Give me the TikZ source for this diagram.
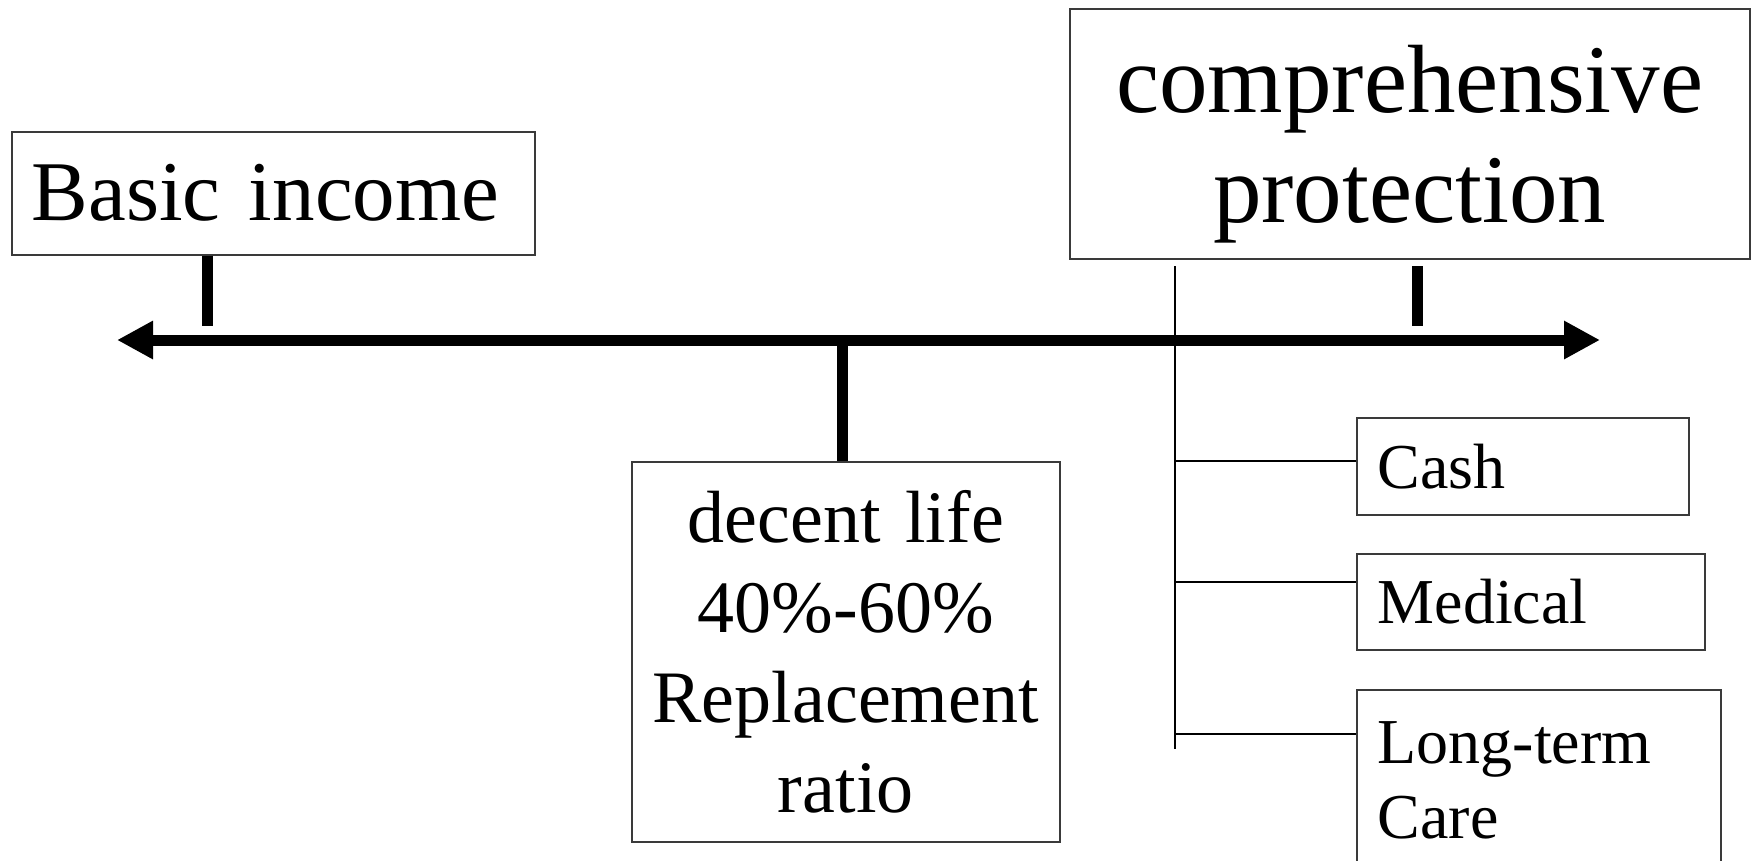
\documentclass[tikz,border=0pt]{standalone}
\usepackage{fontspec}
\setmainfont{Liberation Serif}
\usetikzlibrary{arrows.meta,calc}
\definecolor{BoxGray}{HTML}{3A3A3A}

\tikzset{
  optbox/.style={draw=BoxGray,line width=1.5pt,rectangle,anchor=north west,inner ysep=0pt},
  heavytick/.style={line width=11pt,line cap=butt},
  leafline/.style={line width=1.8pt,line cap=butt},
  axisline/.style={line width=11pt,{Triangle[length=36pt,width=36pt]}-{Triangle[length=36pt,width=36pt]}}
}

\begin{document}
\begin{tikzpicture}[x=1pt,y=-1pt,line join=miter]

% 1 unit = 1 px of the page, y pointing down
\useasboundingbox (0,0) rectangle (1752,860);

% ---- BOXES ----
\node[optbox,inner xsep=20pt,minimum width=523pt,minimum height=123pt,text width=483pt,align=left,
  font=\fontsize{85}{94}\selectfont] (basic) at (11,131) {Basic income};

\node[optbox,inner xsep=20pt,minimum width=680pt,minimum height=250pt,text width=640pt,align=center,
  text height=89pt,font=\fontsize{97}{110}\selectfont] (compre) at (1069,8) {comprehensive\\protection};

\node[optbox,inner xsep=10pt,minimum width=428pt,minimum height=380pt,text width=408pt,align=center,
  font=\fontsize{74}{90}\selectfont] (decent) at (631,461) {decent life\\40\%-60\%\\Replacement\\ratio};

% benefit boxes on the right
\node[optbox,inner xsep=21pt,minimum width=332pt,minimum height=97pt,text width=290pt,align=left,
  font=\fontsize{64}{75}\selectfont] (cash) at (1356,417) {Cash};
\node[optbox,inner xsep=21pt,minimum width=348pt,minimum height=96pt,text width=306pt,align=left,
  font=\fontsize{64}{75}\selectfont] (medical) at (1356,553) {Medical};
\node[optbox,inner xsep=21pt,minimum width=364pt,minimum height=181pt,text width=322pt,align=left,
  font=\fontsize{64}{75}\selectfont] (ltc) at (1356,689) {Long-term\\Care};

% ---- AXIS ----
\coordinate (axisW) at (117,340);
\coordinate (axisE) at (1600,340);
\draw[axisline] (axisW) -- (axisE);

% ticks
\coordinate (tickB) at (207,326);
\draw[heavytick] (tickB |- basic.south) -- (tickB);
\coordinate (tickC) at (1417,266);
\draw[heavytick] (tickC) -- ++(0,60);
\draw[heavytick] ([xshift=-3pt]decent.north) -- ([xshift=-3pt]decent.north |- axisW);

% ---- TREE TO BENEFITS ----
\coordinate (trunkTop) at (1175,266);
\coordinate (trunkEnd) at (1175,749);
\draw[leafline] (trunkTop) -- (trunkEnd);

\coordinate (bCash) at (1175,461);
\coordinate (bMedical) at (1175,582);
\coordinate (bLtc) at (1175,734);
\foreach \leaf/\br in {cash/bCash,medical/bMedical,ltc/bLtc}
  \draw[leafline] (\br) -- (\br -| \leaf.west);

\end{tikzpicture}
\end{document}
